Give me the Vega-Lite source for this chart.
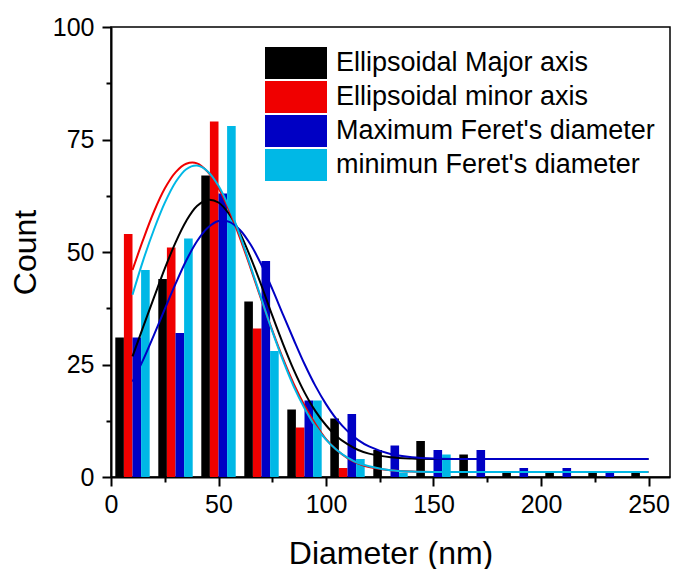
{
  "$schema": "https://vega.github.io/schema/vega-lite/v6.json",
  "width": 559,
  "height": 450,
  "autosize": {"type": "none"},
  "padding": {"left": 111, "top": 27, "right": 3, "bottom": 92},
  "background": "white",
  "config": {
    "view": {"stroke": "black", "strokeWidth": 1.5},
    "axis": {
      "domainColor": "black", "domainWidth": 2,
      "tickColor": "black", "tickWidth": 2,
      "labelFont": "Liberation Sans", "labelFontSize": 25, "labelColor": "black",
      "titleFont": "Liberation Sans", "titleFontSize": 32, "titleFontWeight": "normal", "titleColor": "black",
      "grid": false
    }
  },
  "datasets": {
    "bars": [
      {"series": "Ellipsoidal Major axis", "diameter": 10, "count": 31},
      {"series": "Ellipsoidal minor axis", "diameter": 10, "count": 54},
      {"series": "Maximum Feret's diameter", "diameter": 10, "count": 31},
      {"series": "minimun Feret's diameter", "diameter": 10, "count": 46},
      {"series": "Ellipsoidal Major axis", "diameter": 30, "count": 44},
      {"series": "Ellipsoidal minor axis", "diameter": 30, "count": 51},
      {"series": "Maximum Feret's diameter", "diameter": 30, "count": 32},
      {"series": "minimun Feret's diameter", "diameter": 30, "count": 53},
      {"series": "Ellipsoidal Major axis", "diameter": 50, "count": 67},
      {"series": "Ellipsoidal minor axis", "diameter": 50, "count": 79},
      {"series": "Maximum Feret's diameter", "diameter": 50, "count": 63},
      {"series": "minimun Feret's diameter", "diameter": 50, "count": 78},
      {"series": "Ellipsoidal Major axis", "diameter": 70, "count": 39},
      {"series": "Ellipsoidal minor axis", "diameter": 70, "count": 33},
      {"series": "Maximum Feret's diameter", "diameter": 70, "count": 48},
      {"series": "minimun Feret's diameter", "diameter": 70, "count": 28},
      {"series": "Ellipsoidal Major axis", "diameter": 90, "count": 15},
      {"series": "Ellipsoidal minor axis", "diameter": 90, "count": 11},
      {"series": "Maximum Feret's diameter", "diameter": 90, "count": 17},
      {"series": "minimun Feret's diameter", "diameter": 90, "count": 17},
      {"series": "Ellipsoidal Major axis", "diameter": 110, "count": 13},
      {"series": "Ellipsoidal minor axis", "diameter": 110, "count": 2},
      {"series": "Maximum Feret's diameter", "diameter": 110, "count": 14},
      {"series": "minimun Feret's diameter", "diameter": 110, "count": 4},
      {"series": "Ellipsoidal Major axis", "diameter": 130, "count": 6},
      {"series": "Maximum Feret's diameter", "diameter": 130, "count": 7},
      {"series": "minimun Feret's diameter", "diameter": 130, "count": 1},
      {"series": "Ellipsoidal Major axis", "diameter": 150, "count": 8},
      {"series": "Maximum Feret's diameter", "diameter": 150, "count": 6},
      {"series": "minimun Feret's diameter", "diameter": 150, "count": 5},
      {"series": "Ellipsoidal Major axis", "diameter": 170, "count": 5},
      {"series": "Maximum Feret's diameter", "diameter": 170, "count": 6},
      {"series": "Ellipsoidal Major axis", "diameter": 190, "count": 1},
      {"series": "Maximum Feret's diameter", "diameter": 190, "count": 2},
      {"series": "Ellipsoidal Major axis", "diameter": 210, "count": 1},
      {"series": "Maximum Feret's diameter", "diameter": 210, "count": 2},
      {"series": "Ellipsoidal Major axis", "diameter": 230, "count": 1},
      {"series": "Maximum Feret's diameter", "diameter": 230, "count": 1},
      {"series": "Ellipsoidal Major axis", "diameter": 250, "count": 1}
    ],
    "fits": [
      {"series": "Ellipsoidal Major axis", "diameter": 10, "count": 26.8},
      {"series": "Ellipsoidal Major axis", "diameter": 15, "count": 33.4},
      {"series": "Ellipsoidal Major axis", "diameter": 20, "count": 39.9},
      {"series": "Ellipsoidal Major axis", "diameter": 25, "count": 46.3},
      {"series": "Ellipsoidal Major axis", "diameter": 30, "count": 52.1},
      {"series": "Ellipsoidal Major axis", "diameter": 35, "count": 56.9},
      {"series": "Ellipsoidal Major axis", "diameter": 40, "count": 60.2},
      {"series": "Ellipsoidal Major axis", "diameter": 45, "count": 61.6},
      {"series": "Ellipsoidal Major axis", "diameter": 50, "count": 61.0},
      {"series": "Ellipsoidal Major axis", "diameter": 55, "count": 58.4},
      {"series": "Ellipsoidal Major axis", "diameter": 60, "count": 54.2},
      {"series": "Ellipsoidal Major axis", "diameter": 65, "count": 48.7},
      {"series": "Ellipsoidal Major axis", "diameter": 70, "count": 42.5},
      {"series": "Ellipsoidal Major axis", "diameter": 75, "count": 35.9},
      {"series": "Ellipsoidal Major axis", "diameter": 80, "count": 29.6},
      {"series": "Ellipsoidal Major axis", "diameter": 85, "count": 23.8},
      {"series": "Ellipsoidal Major axis", "diameter": 90, "count": 18.8},
      {"series": "Ellipsoidal Major axis", "diameter": 95, "count": 14.7},
      {"series": "Ellipsoidal Major axis", "diameter": 100, "count": 11.5},
      {"series": "Ellipsoidal Major axis", "diameter": 105, "count": 9.0},
      {"series": "Ellipsoidal Major axis", "diameter": 110, "count": 7.3},
      {"series": "Ellipsoidal Major axis", "diameter": 115, "count": 6.0},
      {"series": "Ellipsoidal Major axis", "diameter": 120, "count": 5.2},
      {"series": "Ellipsoidal Major axis", "diameter": 130, "count": 4.4},
      {"series": "Ellipsoidal Major axis", "diameter": 140, "count": 4.1},
      {"series": "Ellipsoidal Major axis", "diameter": 150, "count": 4.0},
      {"series": "Ellipsoidal Major axis", "diameter": 160, "count": 4.0},
      {"series": "Ellipsoidal Major axis", "diameter": 200, "count": 4.0},
      {"series": "Ellipsoidal Major axis", "diameter": 250, "count": 4.0},
      {"series": "Ellipsoidal minor axis", "diameter": 10, "count": 46.0},
      {"series": "Ellipsoidal minor axis", "diameter": 15, "count": 52.8},
      {"series": "Ellipsoidal minor axis", "diameter": 20, "count": 59.0},
      {"series": "Ellipsoidal minor axis", "diameter": 25, "count": 64.1},
      {"series": "Ellipsoidal minor axis", "diameter": 30, "count": 67.7},
      {"series": "Ellipsoidal minor axis", "diameter": 35, "count": 69.6},
      {"series": "Ellipsoidal minor axis", "diameter": 40, "count": 69.7},
      {"series": "Ellipsoidal minor axis", "diameter": 45, "count": 67.8},
      {"series": "Ellipsoidal minor axis", "diameter": 50, "count": 64.2},
      {"series": "Ellipsoidal minor axis", "diameter": 55, "count": 59.2},
      {"series": "Ellipsoidal minor axis", "diameter": 60, "count": 53.1},
      {"series": "Ellipsoidal minor axis", "diameter": 65, "count": 46.3},
      {"series": "Ellipsoidal minor axis", "diameter": 70, "count": 39.3},
      {"series": "Ellipsoidal minor axis", "diameter": 75, "count": 32.6},
      {"series": "Ellipsoidal minor axis", "diameter": 80, "count": 26.3},
      {"series": "Ellipsoidal minor axis", "diameter": 85, "count": 20.7},
      {"series": "Ellipsoidal minor axis", "diameter": 90, "count": 15.9},
      {"series": "Ellipsoidal minor axis", "diameter": 95, "count": 11.8},
      {"series": "Ellipsoidal minor axis", "diameter": 100, "count": 8.4},
      {"series": "Ellipsoidal minor axis", "diameter": 105, "count": 6.0},
      {"series": "Ellipsoidal minor axis", "diameter": 110, "count": 4.2},
      {"series": "Ellipsoidal minor axis", "diameter": 115, "count": 3.0},
      {"series": "Ellipsoidal minor axis", "diameter": 120, "count": 2.2},
      {"series": "Ellipsoidal minor axis", "diameter": 130, "count": 1.5},
      {"series": "Ellipsoidal minor axis", "diameter": 140, "count": 1.2},
      {"series": "Ellipsoidal minor axis", "diameter": 150, "count": 1.1},
      {"series": "Ellipsoidal minor axis", "diameter": 160, "count": 1.1},
      {"series": "Ellipsoidal minor axis", "diameter": 200, "count": 1.1},
      {"series": "Ellipsoidal minor axis", "diameter": 250, "count": 1.1},
      {"series": "Maximum Feret's diameter", "diameter": 10, "count": 21.2},
      {"series": "Maximum Feret's diameter", "diameter": 15, "count": 26.1},
      {"series": "Maximum Feret's diameter", "diameter": 20, "count": 31.6},
      {"series": "Maximum Feret's diameter", "diameter": 25, "count": 37.3},
      {"series": "Maximum Feret's diameter", "diameter": 30, "count": 42.9},
      {"series": "Maximum Feret's diameter", "diameter": 35, "count": 48.1},
      {"series": "Maximum Feret's diameter", "diameter": 40, "count": 52.4},
      {"series": "Maximum Feret's diameter", "diameter": 45, "count": 55.4},
      {"series": "Maximum Feret's diameter", "diameter": 50, "count": 56.9},
      {"series": "Maximum Feret's diameter", "diameter": 55, "count": 56.7},
      {"series": "Maximum Feret's diameter", "diameter": 60, "count": 54.9},
      {"series": "Maximum Feret's diameter", "diameter": 65, "count": 51.6},
      {"series": "Maximum Feret's diameter", "diameter": 70, "count": 47.1},
      {"series": "Maximum Feret's diameter", "diameter": 75, "count": 41.8},
      {"series": "Maximum Feret's diameter", "diameter": 80, "count": 36.1},
      {"series": "Maximum Feret's diameter", "diameter": 85, "count": 30.5},
      {"series": "Maximum Feret's diameter", "diameter": 90, "count": 25.1},
      {"series": "Maximum Feret's diameter", "diameter": 95, "count": 20.3},
      {"series": "Maximum Feret's diameter", "diameter": 100, "count": 16.2},
      {"series": "Maximum Feret's diameter", "diameter": 105, "count": 12.8},
      {"series": "Maximum Feret's diameter", "diameter": 110, "count": 10.2},
      {"series": "Maximum Feret's diameter", "diameter": 115, "count": 8.2},
      {"series": "Maximum Feret's diameter", "diameter": 120, "count": 6.8},
      {"series": "Maximum Feret's diameter", "diameter": 130, "count": 5.1},
      {"series": "Maximum Feret's diameter", "diameter": 140, "count": 4.4},
      {"series": "Maximum Feret's diameter", "diameter": 150, "count": 4.1},
      {"series": "Maximum Feret's diameter", "diameter": 160, "count": 4.0},
      {"series": "Maximum Feret's diameter", "diameter": 200, "count": 4.0},
      {"series": "Maximum Feret's diameter", "diameter": 250, "count": 4.0},
      {"series": "minimun Feret's diameter", "diameter": 10, "count": 40.5},
      {"series": "minimun Feret's diameter", "diameter": 15, "count": 48.2},
      {"series": "minimun Feret's diameter", "diameter": 20, "count": 55.0},
      {"series": "minimun Feret's diameter", "diameter": 25, "count": 60.9},
      {"series": "minimun Feret's diameter", "diameter": 30, "count": 65.5},
      {"series": "minimun Feret's diameter", "diameter": 35, "count": 68.4},
      {"series": "minimun Feret's diameter", "diameter": 40, "count": 69.2},
      {"series": "minimun Feret's diameter", "diameter": 45, "count": 67.9},
      {"series": "minimun Feret's diameter", "diameter": 50, "count": 64.7},
      {"series": "minimun Feret's diameter", "diameter": 55, "count": 59.8},
      {"series": "minimun Feret's diameter", "diameter": 60, "count": 53.7},
      {"series": "minimun Feret's diameter", "diameter": 65, "count": 46.7},
      {"series": "minimun Feret's diameter", "diameter": 70, "count": 39.5},
      {"series": "minimun Feret's diameter", "diameter": 75, "count": 32.4},
      {"series": "minimun Feret's diameter", "diameter": 80, "count": 25.9},
      {"series": "minimun Feret's diameter", "diameter": 85, "count": 20.1},
      {"series": "minimun Feret's diameter", "diameter": 90, "count": 15.3},
      {"series": "minimun Feret's diameter", "diameter": 95, "count": 11.3},
      {"series": "minimun Feret's diameter", "diameter": 100, "count": 8.3},
      {"series": "minimun Feret's diameter", "diameter": 105, "count": 6.0},
      {"series": "minimun Feret's diameter", "diameter": 110, "count": 4.3},
      {"series": "minimun Feret's diameter", "diameter": 115, "count": 3.1},
      {"series": "minimun Feret's diameter", "diameter": 120, "count": 2.4},
      {"series": "minimun Feret's diameter", "diameter": 130, "count": 1.5},
      {"series": "minimun Feret's diameter", "diameter": 140, "count": 1.2},
      {"series": "minimun Feret's diameter", "diameter": 150, "count": 1.1},
      {"series": "minimun Feret's diameter", "diameter": 160, "count": 1.1},
      {"series": "minimun Feret's diameter", "diameter": 200, "count": 1.1},
      {"series": "minimun Feret's diameter", "diameter": 250, "count": 1.1}
    ]
  },
  "layer": [
    {
      "data": {"name": "bars"},
      "transform": [{"filter": "datum.series === 'Ellipsoidal Major axis'"}],
      "mark": {"type": "bar", "width": 8.6, "xOffset": -12.9},
      "encoding": {
        "x": {"field": "diameter", "type": "quantitative", "scale": {"domain": [0, 260], "nice": false, "zero": false, "padding": 0},
          "axis": {"values": [0, 50, 100, 150, 200, 250], "tickSize": 9, "labelPadding": 6, "title": "Diameter (nm)", "titleX": 279.5, "titleY": 86, "titleBaseline": "alphabetic", "labelFlush": false, "labelOverlap": false}},
        "y": {"field": "count", "type": "quantitative", "scale": {"domain": [0, 100], "nice": false, "padding": 0},
          "axis": {"values": [0, 25, 50, 75, 100], "tickSize": 9, "labelPadding": 8, "title": "Count", "titleX": -76, "titleY": 225, "titleBaseline": "alphabetic", "labelFlush": false, "labelOverlap": false}},
        "color": {"field": "series", "type": "nominal",
          "scale": {"domain": ["Ellipsoidal Major axis", "Ellipsoidal minor axis", "Maximum Feret's diameter", "minimun Feret's diameter"], "range": ["#000000", "#f00000", "#0000c4", "#00b8e6"]},
          "legend": {"title": null, "orient": "none", "legendX": 154, "legendY": 20, "padding": 0, "symbolType": "M-1,-0.516H1V0.516H-1Z", "symbolSize": 3844, "symbolStrokeWidth": 0, "symbolOpacity": 1, "labelFont": "Liberation Sans", "labelFontSize": 27, "labelColor": "black", "labelOffset": 9, "labelLimit": 500, "rowPadding": 2, "clipHeight": 32}}
      }
    },
    {
      "data": {"name": "bars"},
      "transform": [{"filter": "datum.series === 'Ellipsoidal minor axis'"}],
      "mark": {"type": "bar", "width": 8.6, "xOffset": -4.3},
      "encoding": {
        "x": {"field": "diameter", "type": "quantitative", "axis": null},
        "y": {"field": "count", "type": "quantitative", "axis": null},
        "color": {"field": "series", "type": "nominal"}
      }
    },
    {
      "data": {"name": "bars"},
      "transform": [{"filter": "datum.series === \"Maximum Feret's diameter\""}],
      "mark": {"type": "bar", "width": 8.6, "xOffset": 4.3},
      "encoding": {
        "x": {"field": "diameter", "type": "quantitative", "axis": null},
        "y": {"field": "count", "type": "quantitative", "axis": null},
        "color": {"field": "series", "type": "nominal"}
      }
    },
    {
      "data": {"name": "bars"},
      "transform": [{"filter": "datum.series === \"minimun Feret's diameter\""}],
      "mark": {"type": "bar", "width": 8.6, "xOffset": 12.9},
      "encoding": {
        "x": {"field": "diameter", "type": "quantitative", "axis": null},
        "y": {"field": "count", "type": "quantitative", "axis": null},
        "color": {"field": "series", "type": "nominal"}
      }
    },
    {
      "data": {"name": "fits"},
      "mark": {"type": "line", "strokeWidth": 2, "interpolate": "catmull-rom"},
      "encoding": {
        "x": {"field": "diameter", "type": "quantitative",
          "axis": {"orient": "bottom", "values": [25, 75, 125, 175, 225], "tickSize": 5, "labels": false, "domain": false, "title": null}},
        "y": {"field": "count", "type": "quantitative",
          "axis": {"orient": "left", "values": [12.5, 37.5, 62.5, 87.5], "tickSize": 5, "labels": false, "domain": false, "title": null}},
        "color": {"field": "series", "type": "nominal"},
        "order": {"field": "diameter", "type": "quantitative"}
      }
    }
  ],
  "resolve": {"axis": {"x": "independent", "y": "independent"}}
}
